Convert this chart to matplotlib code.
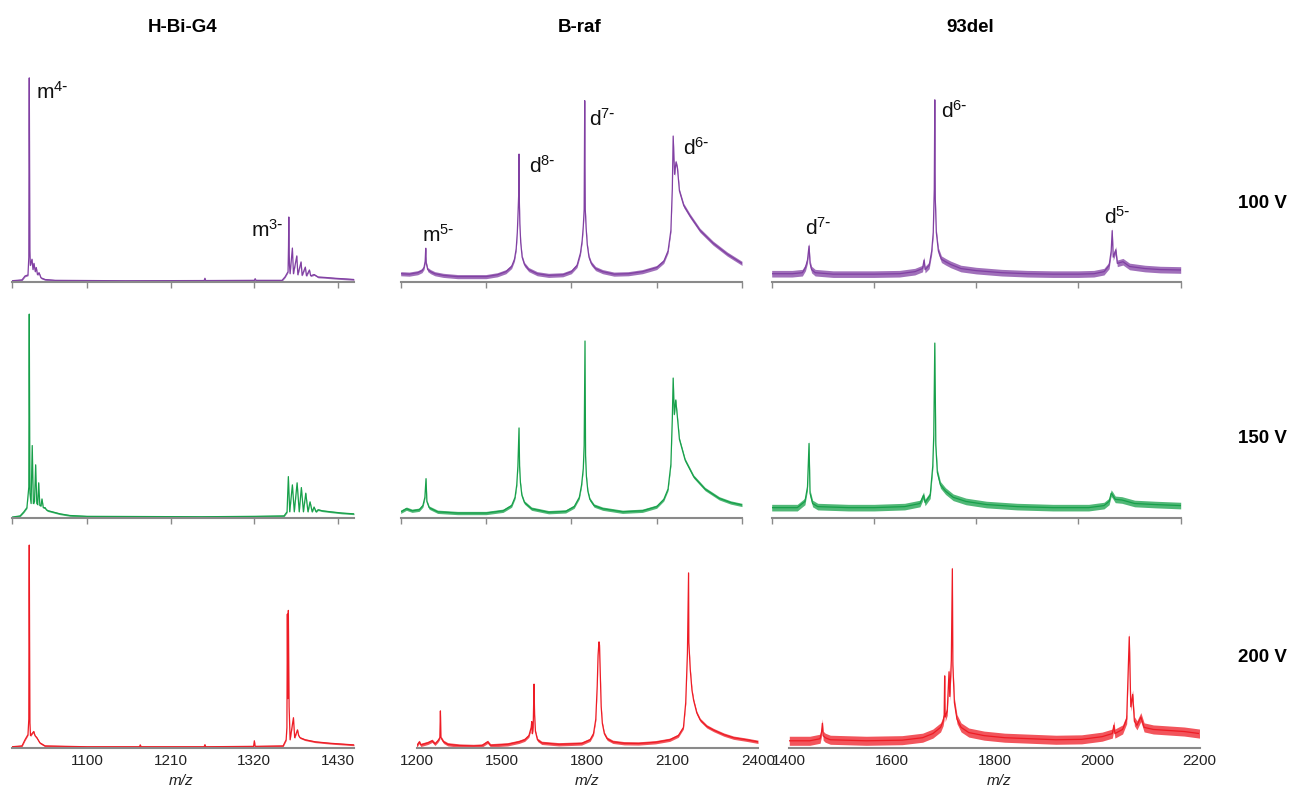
import numpy as np
import matplotlib
matplotlib.use("Agg")
import matplotlib.pyplot as plt

plt.rcParams['font.family'] = ['Liberation Sans', 'DejaVu Sans']
plt.rcParams['mathtext.default'] = 'regular'

# ---- data (m/z, relative intensity in % of panel height) ----
samples = ['H-Bi-G4', 'B-raf', '93del']
voltages = ['100 V', '150 V', '200 V']
colors = ['#8140A3', '#17A04A', '#EE1C25']

hbig4_100_mz = [1001, 1014.5, 1018.5, 1022.4, 1023.5, 1023.8, 1024.1, 1024.5, 1025, 1025.5, 1027.7, 1029,
                1030.3, 1032, 1033.3, 1034.9, 1036.9, 1039.5, 1044.8, 1058, 1150, 1254, 1255, 1256, 1320,
                1321, 1322, 1356.4, 1360.4, 1364.3, 1364.9, 1365.3, 1365.7, 1366.2, 1367, 1370, 1371.4,
                1375.8, 1377.2, 1381.4, 1382.8, 1387, 1388.5, 1392.4, 1394, 1398.5, 1403.8, 1413, 1426,
                1439, 1451]
hbig4_100_int = [0.6, 1.0, 2.9, 3.4, 12, 74, 98.6, 60, 15, 8, 11, 6,
                 9, 5, 7, 3.5, 4.5, 2, 1.2, 0.8, 0.6, 0.7, 1.8, 0.7, 0.8,
                 1.6, 0.8, 0.8, 2.5, 5, 17, 31.4, 17, 8, 4, 16.4, 4,
                 12.6, 3.5, 9.7, 3.2, 7.2, 3, 5.8, 3, 3.6, 2.4, 2.2, 1.8,
                 1.5, 1.2]

hbig4_150_mz = [1001, 1012, 1017, 1021, 1023.5, 1023.8, 1024.1, 1024.5, 1025, 1026.5, 1028, 1029.5, 1031,
                1032.5, 1034, 1035.2, 1036.5, 1038, 1039.6, 1040.8, 1042.5, 1044.8, 1046.5, 1048.7, 1051,
                1064.5, 1077.6, 1100, 1250, 1320, 1359, 1363, 1364.7, 1366.5, 1370, 1372.5, 1376.2, 1379,
                1381.8, 1384.5, 1387.6, 1390.5, 1393.2, 1396, 1398.5, 1401, 1403.8, 1409, 1420, 1435, 1451]
hbig4_150_int = [0.4, 1, 3, 5, 15, 70, 98.5, 55, 12, 7, 35, 7, 8,
                 25.7, 7, 6.5, 17, 6, 6, 9.2, 5, 5, 4, 3.5, 3.3,
                 2, 1.2, 0.8, 0.6, 0.8, 1, 3, 20, 3, 16, 3, 17, 3,
                 14.7, 3, 12, 3, 7.8, 3, 5.3, 3, 4, 3.5, 3, 2.4, 2]

hbig4_200_mz = [1001, 1014.5, 1018.5, 1022.4, 1023.5, 1023.8, 1024.1, 1024.5, 1025, 1025.7, 1027.7, 1030,
                1031.6, 1034, 1038, 1044.8, 1100, 1169, 1170, 1171, 1254, 1255, 1256, 1319, 1320, 1321,
                1357.8, 1361.8, 1362.8, 1363.4, 1364, 1364.7, 1365.7, 1367, 1371.4, 1373, 1376.7, 1378.3,
                1380, 1386.7, 1400, 1419.5, 1451]
hbig4_200_int = [0.6, 1, 4, 6.5, 14, 74, 98.5, 55, 12, 6, 7, 8,
                 6, 5, 2.5, 1, 0.6, 0.6, 1.5, 0.6, 0.6, 1.6, 0.6, 0.8, 3.5, 0.8,
                 1, 4, 10, 65, 24, 66.8, 20, 4, 14.7, 5, 8.8, 6,
                 5, 4, 3, 2.3, 1.5]

braf_100_mz = [1200, 1230, 1260, 1275, 1282, 1286, 1288, 1290, 1295, 1305, 1320, 1350, 1400, 1450, 1500,
               1540, 1570, 1590, 1600, 1606, 1610, 1613, 1615, 1616, 1617, 1619, 1622, 1627, 1635, 1650,
               1680, 1720, 1770, 1800, 1820, 1832, 1838, 1842, 1845, 1847, 1849, 1852, 1856, 1862, 1870,
               1885, 1910, 1950, 2000, 2050, 2100, 2125, 2140, 2150, 2155, 2158, 2163, 2168, 2173, 2180,
               2195, 2217, 2252, 2298, 2348, 2400]
braf_100_int = [4, 3.8, 4.5, 5.5, 7, 10, 16.3, 9, 6, 5, 4, 3.2, 2.6, 2.6, 2.6,
                3.5, 5, 7.5, 11, 16, 24, 35, 43, 61.8, 40, 28, 19, 12, 8.5, 6,
                4, 3.2, 3.5, 5, 8, 14, 20, 27, 35, 87.6, 35, 26, 18, 12, 9,
                6.5, 5, 3.8, 4, 5, 7, 10, 15, 25, 45, 70.5, 52, 58, 55, 44,
                37, 32, 25, 18.8, 13.5, 9]

braf_150_mz = [1200, 1220, 1240, 1265, 1278, 1285, 1289, 1292, 1300, 1330, 1400, 1500, 1560, 1590, 1602,
               1608, 1612, 1616, 1618, 1621, 1626, 1635, 1660, 1720, 1780, 1810, 1828, 1836, 1842, 1845,
               1848, 1850, 1853, 1858, 1865, 1880, 1910, 1980, 2050, 2100, 2125, 2140, 2150, 2155, 2158,
               2162, 2167, 2172, 2180, 2200, 2230, 2270, 2320, 2360, 2400]
braf_150_int = [3, 4.5, 3.5, 4, 6, 10, 19, 8, 5, 3, 2.4, 2.4, 3.5, 6, 10,
                16, 25, 43.5, 25, 17, 11, 7.5, 4.5, 2.8, 3.2, 5.5, 10, 16, 24, 35,
                85.5, 30, 20, 13, 9, 6, 4.5, 3, 3.5, 5.5, 9, 14, 26, 48, 67.6,
                50, 57, 50, 38, 28, 20, 14, 9.5, 7.5, 6.3]

braf_200_mz = [1200, 1210, 1215, 1240, 1255, 1265, 1275, 1282, 1284, 1286, 1295, 1310, 1350, 1400, 1430,
               1450, 1460, 1520, 1560, 1580, 1595, 1603, 1605, 1607, 1610, 1613, 1615, 1618, 1625, 1640,
               1700, 1780, 1810, 1822, 1830, 1835, 1838, 1841, 1843, 1846, 1849, 1853, 1860, 1870, 1890,
               1930, 1980, 2040, 2090, 2120, 2138, 2146, 2152, 2156, 2157, 2162, 2168, 2174, 2185, 2197,
               2220, 2244, 2280, 2314, 2360, 2400]
braf_200_int = [1, 3, 1.5, 2.5, 3.5, 2, 3.5, 5, 18, 5, 3, 1.8, 1.2, 1, 1.2,
                3, 1.3, 1.8, 3, 4, 6, 10, 12.8, 7, 10, 31, 16, 8, 4, 2.5,
                1.8, 2.2, 4, 7, 14, 30, 45, 51.5, 50, 35, 20, 12, 7, 4.5, 3,
                2.3, 2.2, 2.8, 4, 6, 10, 22, 46, 85, 51, 38, 28, 23, 17, 13.6,
                10.5, 8.7, 6.5, 5, 4, 3]

del93_100_mz = [1400, 1440, 1460, 1466, 1470, 1473, 1475, 1478, 1485, 1520, 1600, 1650, 1680, 1695, 1698,
                1700, 1708, 1713, 1716, 1718, 1719, 1720, 1722, 1726, 1732, 1740, 1750, 1770, 1800, 1850,
                1900, 1950, 2000, 2030, 2050, 2060, 2064, 2066, 2068, 2073, 2076, 2087, 2100, 2130, 2160,
                2200]
del93_100_int = [4, 4, 4.5, 7, 10.6, 17.4, 9, 6, 4.5, 3.8, 3.8, 4, 5, 6.5, 10.6,
                 6, 8, 15, 24, 45, 88, 40, 24, 15, 11, 9.8, 8.5, 6.5, 5.5, 4.5,
                 4, 3.8, 3.8, 4, 5, 8, 15, 24.8, 12, 15.5, 9, 9.8, 7.5, 6.5, 6,
                 5.8]

del93_150_mz = [1400, 1450, 1465, 1470, 1473, 1475, 1480, 1490, 1550, 1600, 1660, 1690, 1697, 1700, 1710,
                1715, 1717, 1719, 1721, 1724, 1730, 1740, 1755, 1780, 1820, 1880, 1950, 2020, 2050, 2060,
                2064, 2067, 2072, 2085, 2110, 2150, 2200]
del93_150_int = [5, 5, 8, 15, 36, 12, 7, 5.5, 5, 5, 5.5, 7, 11, 7.5, 11,
                 25, 40, 84.5, 35, 22, 16, 13, 10, 8, 6.5, 5.5, 5, 5, 6, 8,
                 12, 11, 9, 8.7, 7, 6.5, 6]

del93_200_mz = [1400, 1440, 1460, 1463, 1464.5, 1466, 1470, 1480, 1550, 1620, 1660, 1680, 1695, 1700,
                1702, 1703, 1704, 1708, 1711.5, 1713, 1716, 1718, 1719, 1722, 1727, 1735, 1750, 1780,
                1820, 1870, 1920, 1970, 2010, 2030, 2033, 2035, 2050, 2058, 2063, 2066, 2069.6, 2073,
                2078, 2085.6, 2092, 2110, 2140, 2170, 2200]
del93_200_int = [3.5, 3.5, 4.5, 8, 12, 6, 5, 4, 3.5, 3.8, 5, 7, 10, 13,
                 16, 35, 15, 18, 37, 25, 42.6, 87, 40, 22, 14, 10, 7.5, 6,
                 5, 4.5, 4, 4.2, 5.5, 7, 11, 7, 9, 14, 54, 20, 26, 13,
                 11, 15, 10, 9, 8.5, 8, 7]

noise_level = [[0.4, 1.0, 1.6],
               [0.4, 0.8, 1.6],
               [0.4, 0.8, 2.2]]

spectra = [[(hbig4_100_mz, hbig4_100_int), (braf_100_mz, braf_100_int), (del93_100_mz, del93_100_int)],
           [(hbig4_150_mz, hbig4_150_int), (braf_150_mz, braf_150_int), (del93_150_mz, del93_150_int)],
           [(hbig4_200_mz, hbig4_200_int), (braf_200_mz, braf_200_int), (del93_200_mz, del93_200_int)]]

xlims = [(1001.4, 1451), (1200, 2400), (1400, 2200)]
xticks = [[1100, 1210, 1320, 1430], [1200, 1500, 1800, 2100, 2400], [1400, 1600, 1800, 2000, 2200]]

# peak annotations on the 100 V row: (column, label, m/z, intensity)
peak_labels = [(0, r'm$^{4\text{-}}$', 1033, 91.8), (0, r'm$^{3\text{-}}$', 1315.7, 25),
               (1, r'm$^{5\text{-}}$', 1274, 23), (1, r'd$^{8\text{-}}$', 1651, 56),
               (1, r'd$^{7\text{-}}$', 1862, 78.7), (1, r'd$^{6\text{-}}$', 2192, 64.7),
               (2, r'd$^{7\text{-}}$', 1465, 26), (2, r'd$^{6\text{-}}$', 1732, 82.8),
               (2, r'd$^{5\text{-}}$', 2050, 31.5)]

# ---- layout in pixels ----
W, H = 1301, 791
row_top = [75, 311, 542]
row_bottom = [282, 518, 748]
col_x = [[(12, 354), (400.7, 742), (771.7, 1180.7)],
         [(12, 354), (400.7, 742), (771.7, 1180.7)],
         [(12, 354), (416.5, 758), (789.3, 1199.5)]]

fig = plt.figure(figsize=(W / 100, H / 100), dpi=100)
axes = [[None] * 3 for _ in range(3)]

for r in range(3):
    for c in range(3):
        x0, x1 = col_x[r][c]
        ax = fig.add_axes([x0 / W, 1 - row_bottom[r] / H, (x1 - x0) / W, (row_bottom[r] - row_top[r]) / H])
        axes[r][c] = ax
        mz = np.array(spectra[r][c][0], dtype=float)
        inten = np.array(spectra[r][c][1], dtype=float)
        n = noise_level[r][c]
        ax.fill_between(mz, np.clip(inten - n, 0, None), inten + n, color=colors[r], alpha=0.75, lw=0)
        ax.plot(mz, inten, color=colors[r], lw=0.9)
        ax.set_xlim(*xlims[c])
        ax.set_ylim(0, 100)
        ax.set_yticks([])
        for s in ['top', 'right', 'left']:
            ax.spines[s].set_visible(False)
        ax.spines['bottom'].set_color('#8a8a8a')
        ax.spines['bottom'].set_linewidth(1.5)
        ax.patch.set_alpha(0)
        if r < 2:
            ticks = xticks[c] if c > 0 else [xlims[0][0]] + xticks[0]
            ax.set_xticks(ticks)
            ax.set_xticklabels([])
            ax.tick_params(axis='x', direction='out', length=4, width=1, color='#8a8a8a')
        else:
            ax.set_xticks(xticks[c])
            ax.tick_params(axis='x', length=0, pad=4, labelsize=11, labelcolor='#222222')

for c, label, x, y in peak_labels:
    axes[0][c].text(x, y, label, fontsize=15, ha='left', va='center', color='#111111')

title_x = [183, 580, 970]
for c in range(3):
    fig.text(title_x[c] / W, 1 - 27 / H, samples[c], fontsize=13.5, fontweight='bold', ha='center', va='center')

volt_y = [204, 438, 657]
for r in range(3):
    fig.text(1262 / W, 1 - volt_y[r] / H, voltages[r], fontsize=13.5, fontweight='bold', ha='center',
             va='center')

mz_x = [181, 587, 999]
for c in range(3):
    fig.text(mz_x[c] / W, 1 - 781 / H, 'm/z', fontsize=11, style='italic', ha='center', va='center',
             color='#222222')

fig.savefig('out.png', dpi=100)
